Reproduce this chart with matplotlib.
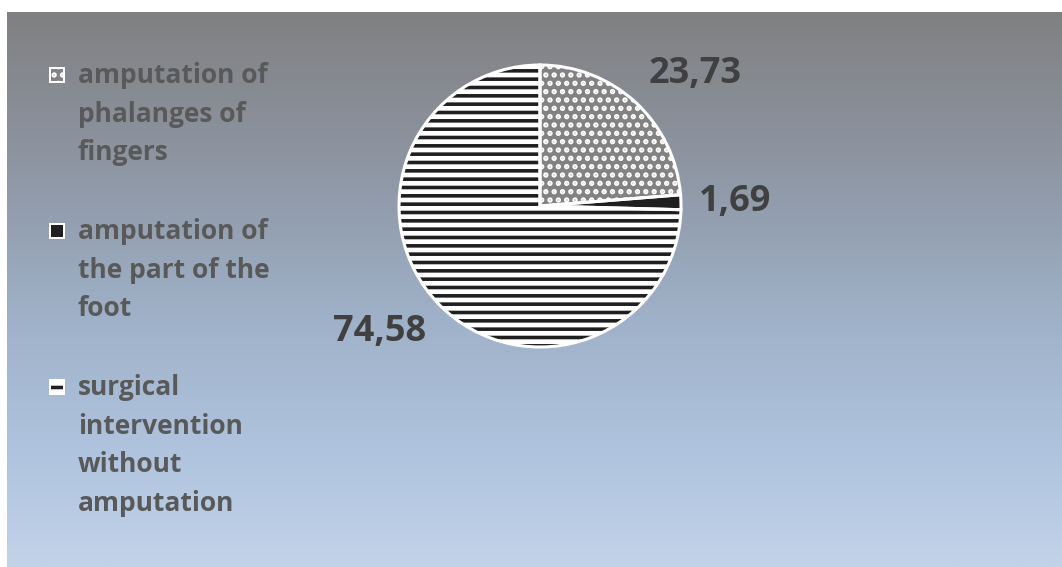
import numpy as np
import matplotlib.pyplot as plt
from matplotlib.patches import Rectangle
from matplotlib.colors import LinearSegmentedColormap

categories = ["amputation of\nphalanges of\nfingers",
              "amputation of\nthe part of the\nfoot",
              "surgical\nintervention\nwithout\namputation"]
values = [23.73, 1.69, 74.58]
value_labels = ["23,73", "1,69", "74,58"]

face_colors = ['#828282', '#1f1f1f', '#ffffff']
hatch_colors = ['#ffffff', '#1f1f1f', '#1f1f1f']
hatches = ['..', '', '--']


def main():
    W, H, dpi = 1062, 567, 100
    fig = plt.figure(figsize=(W / dpi, H / dpi), dpi=dpi, facecolor='white')
    plt.rcParams['font.family'] = ['Open Sans', 'DejaVu Sans']
    plt.rcParams['hatch.linewidth'] = 2.6

    # gradient panel
    bg = fig.add_axes([7 / W, 0, 1 - 7 / W, (H - 12) / H], zorder=0)
    cmap = LinearSegmentedColormap.from_list('bg', [
        (0.0, (128/255, 128/255, 129/255)),
        (0.3, (143/255, 152/255, 166/255)),
        (0.55, (159/255, 177/255, 200/255)),
        (0.8, (176/255, 196/255, 223/255)),
        (1.0, (194/255, 211/255, 233/255))])
    grad = np.linspace(0, 1, 256).reshape(-1, 1)
    bg.imshow(grad, aspect='auto', cmap=cmap, extent=[0, 1, 0, 1], origin='upper')
    bg.set_axis_off()

    # pie axes: centre (540,206) px, radius 141 px
    cx, cy, r = 540, 206, 141
    size = 2.5 * r
    ax = fig.add_axes([(cx - size / 2) / W, (H - cy - size / 2) / H, size / W, size / H], zorder=2)
    wedges, _ = ax.pie(values, startangle=90, counterclock=False, colors=face_colors,
                       wedgeprops=dict(linewidth=0))
    for w, hc, h in zip(wedges, hatch_colors, hatches):
        w.set_hatch(h)
        w.set_edgecolor(hc)
    ax.pie(values, startangle=90, counterclock=False,
           wedgeprops=dict(fill=False, edgecolor='white', linewidth=2.2))
    ax.set_xlim(-1.25, 1.25)
    ax.set_ylim(-1.25, 1.25)

    # value labels outside the wedges
    for w, lab in zip(wedges, value_labels):
        ang = np.deg2rad((w.theta1 + w.theta2) / 2)
        x, y = 1.13 * np.cos(ang), 1.10 * np.sin(ang)
        ha = 'left' if np.cos(ang) > 0.3 else ('right' if np.cos(ang) < -0.3 else 'center')
        va = 'bottom' if np.sin(ang) > 0.3 else ('top' if np.sin(ang) < -0.3 else 'center')
        ax.text(x, y, lab, ha=ha, va=va, fontsize=26, fontweight='bold', color='#404040')

    # legend drawn by hand
    line_px = 39
    top = 75
    for w, lab, fc, hc, h in zip(wedges, categories, face_colors, hatch_colors, hatches):
        nlines = lab.count('\n') + 1
        yc = 1 - top / H
        fig.patches.append(Rectangle((49 / W, yc - 8 / H), 16 / W, 16 / H, transform=fig.transFigure,
                                     facecolor='white', edgecolor='none', zorder=3))
        fig.patches.append(Rectangle((51 / W, yc - 6 / H), 12 / W, 12 / H, transform=fig.transFigure,
                                     facecolor=fc, edgecolor=hc, hatch=h, linewidth=0, zorder=4))
        fig.text(78 / W, yc + 13 / H, lab, ha='left', va='top', fontsize=19, fontweight='bold',
                 color='#595959', linespacing=1.55, zorder=5)
        top += (nlines + 1) * line_px

    fig.savefig('out.png', dpi=dpi)


if __name__ == "__main__":
    main()
